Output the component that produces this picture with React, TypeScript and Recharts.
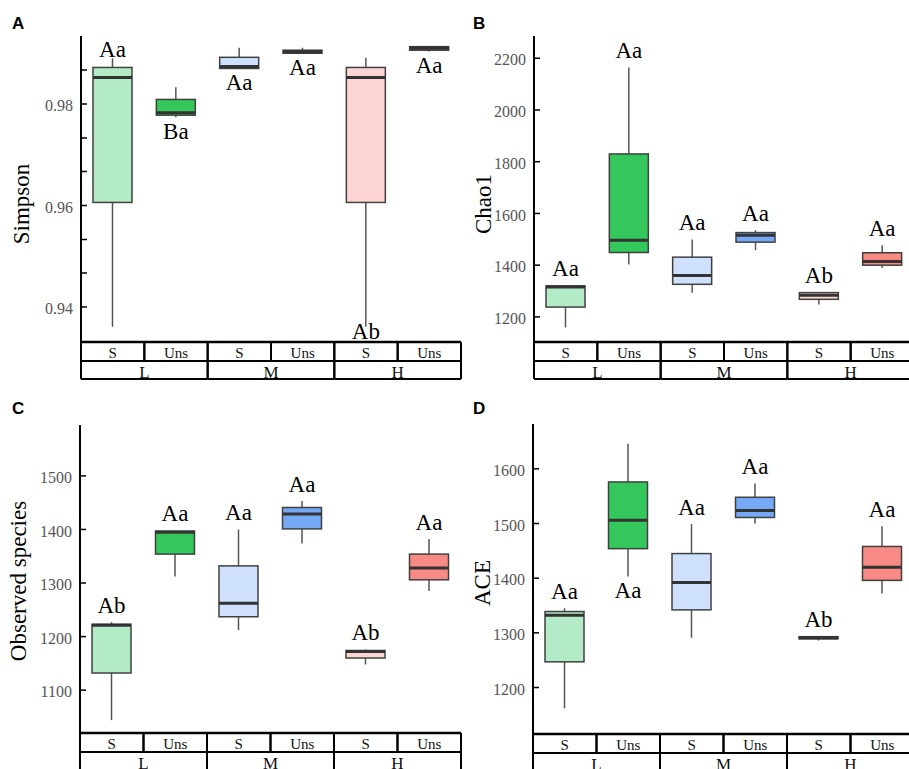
import React from "react";
import { ComposedChart, Bar, XAxis, YAxis } from "recharts";

const groups = ["L", "L", "M", "M", "H", "H"];
const treatments = ["S", "Uns", "S", "Uns", "S", "Uns"];

// Simpson
const simpsonMin = [0.9361, 0.9774, 0.987, 0.99, 0.9361, 0.9903];
const simpsonQ1 = [0.9606, 0.9778, 0.987, 0.99, 0.9606, 0.9906];
const simpsonMedian = [0.9852, 0.9783, 0.9874, 0.9903, 0.9852, 0.991];
const simpsonQ3 = [0.9872, 0.9809, 0.9892, 0.9906, 0.9872, 0.9913];
const simpsonMax = [0.989, 0.9833, 0.9911, 0.9911, 0.9891, 0.9913];
const simpsonLetters = ["Aa", "Ba", "Aa", "Aa", "Ab", "Aa"];
const simpsonSides = ["top", "bottom", "bottom", "bottom", "bottom", "bottom"];
const simpsonTicks = [0.94, 0.9467, 0.9533, 0.96, 0.9667, 0.9733, 0.98, 0.9867];
const simpsonLabelled = [0.94, 0.96, 0.98];

// Chao1
const chaoMin = [1159, 1403, 1293, 1458, 1248, 1389];
const chaoQ1 = [1238, 1449, 1326, 1489, 1268, 1400];
const chaoMedian = [1316, 1496, 1360, 1516, 1284, 1414];
const chaoQ3 = [1320, 1830, 1431, 1526, 1294, 1448];
const chaoMax = [1323, 2164, 1499, 1535, 1294.5, 1477];
const chaoLetters = ["Aa", "Aa", "Aa", "Aa", "Ab", "Aa"];
const chaoSides = ["top", "top", "top", "top", "top", "top"];
const chaoTicks = [1200, 1400, 1600, 1800, 2000, 2200];

// Observed species
const obsMin = [1044, 1312, 1212, 1374, 1148, 1285];
const obsQ1 = [1132, 1354, 1237, 1401, 1160, 1306];
const obsMedian = [1221, 1395, 1262, 1429, 1172, 1328];
const obsQ3 = [1223, 1397, 1332, 1441, 1174, 1354];
const obsMax = [1227, 1398, 1400, 1453, 1176, 1382];
const obsLetters = ["Ab", "Aa", "Aa", "Aa", "Ab", "Aa"];
const obsSides = ["top", "top", "top", "top", "top", "top"];
const obsTicks = [1100, 1200, 1300, 1400, 1500];

// ACE
const aceMin = [1162, 1403, 1291, 1500, 1286, 1372];
const aceQ1 = [1247, 1454, 1342, 1511, 1289, 1396];
const aceMedian = [1332, 1506, 1392, 1524, 1291, 1420];
const aceQ3 = [1339, 1576, 1445, 1548, 1293, 1458];
const aceMax = [1345, 1646, 1499, 1573, 1293.5, 1495];
const aceLetters = ["Aa", "Aa", "Aa", "Aa", "Ab", "Aa"];
const aceSides = ["top", "bottom", "top", "top", "top", "top"];
const aceTicks = [1200, 1300, 1400, 1500, 1600];

const boxFills = ["#b3ebc6", "#34c85c", "#cfe0fd", "#76a9f5", "#fdd5d5", "#f88a85"];
const SERIF = '"Liberation Serif", "Times New Roman", serif';
const SANS = '"Liberation Sans", Arial, sans-serif';

function buildRows(min, q1, median, q3, max, letters, sides) {
  return groups.map((g, i) => ({
    key: g + "-" + treatments[i],
    group: g,
    trt: treatments[i],
    idx: i,
    min: min[i],
    q1: q1[i],
    median: median[i],
    q3: q3[i],
    max: max[i],
    letter: letters[i],
    side: sides[i],
  }));
}

function BoxShape(props) {
  const { x, y, width, height, payload: r, plotTop, plotBottom } = props;
  const top = Math.min(y, y + height);
  const h = Math.abs(height);
  const py = (v) => top + ((r.max - v) / (r.max - r.min)) * h;
  const cx = x + width / 2;
  const yQ3 = py(r.q3);
  const yQ1 = py(r.q1);
  const yMed = py(r.median);
  // letters sit above the upper whisker or below the lower one, kept inside the frame
  let ly = r.side === "top" ? py(r.max) - 9.5 : py(r.min) + 21.5;
  if (r.side === "top") ly = Math.max(ly, plotTop + 21);
  else ly = Math.min(ly, plotBottom - 3);
  return (
    <g>
      <line x1={cx} x2={cx} y1={py(r.max)} y2={py(r.min)} stroke="#555" strokeWidth={1.5} />
      <rect
        x={x}
        y={yQ3}
        width={width}
        height={Math.max(yQ1 - yQ3, 0.5)}
        fill={boxFills[r.idx]}
        stroke="#404040"
        strokeWidth={1.5}
      />
      <line x1={x} x2={x + width} y1={yMed} y2={yMed} stroke="#333" strokeWidth={3} />
      <text x={cx} y={ly} textAnchor="middle" fontFamily={SERIF} fontSize={23} fill="#000">
        {r.letter}
      </text>
    </g>
  );
}

function Panel({ left, top, yWidth, plotWidth, plotHeight, letter, letterX, letterY, yLabel, lx, ly, rows, domain, ticks, labelled, fmt }) {
  const marginTop = 36;
  const band = plotWidth / rows.length;
  const width = yWidth + plotWidth + 2;
  const height = marginTop + plotHeight + 19 + 18 + 3;
  const axisX = yWidth;

  const ValTick = ({ y, payload }) => {
    const v = payload.value;
    const show = (labelled || ticks).some((m) => Math.abs(m - v) < 1e-9);
    return (
      <g>
        <line x1={axisX} x2={axisX + 6} y1={y} y2={y} stroke="#000" strokeWidth={1.5} />
        {show && (
          <text x={axisX - 8} y={y} dy="0.45em" textAnchor="end" fontFamily={SERIF} fontSize={16} fill="#555">
            {fmt(v)}
          </text>
        )}
      </g>
    );
  };

  const CatTick = ({ x, y, payload }) => {
    const label = String(payload.value).split("-")[1];
    return (
      <g>
        <line x1={x - band / 2} x2={x - band / 2} y1={y} y2={y + 19} stroke="#000" strokeWidth={2} />
        <line x1={x + band / 2} x2={x + band / 2} y1={y} y2={y + 19} stroke="#000" strokeWidth={2} />
        <text x={x} y={y + 15.5} textAnchor="middle" fontFamily={SERIF} fontSize={15} fill="#111">
          {label}
        </text>
      </g>
    );
  };

  const GrpTick = ({ x, y, payload }) => (
    <g>
      <line x1={x - band} x2={x - band} y1={y} y2={y + 18} stroke="#000" strokeWidth={2} />
      <line x1={x + band} x2={x + band} y1={y} y2={y + 18} stroke="#000" strokeWidth={2} />
      <line x1={x - band} x2={x + band} y1={y + 18} y2={y + 18} stroke="#000" strokeWidth={2} />
      <text x={x} y={y + 16.5} textAnchor="middle" fontFamily={SERIF} fontSize={17} fill="#111">
        {payload.value}
      </text>
    </g>
  );

  const Labels = () => (
    <g>
      <text x={letterX} y={letterY} fontFamily={SANS} fontWeight="bold" fontSize={17} fill="#000">
        {letter}
      </text>
      <text
        x={lx}
        y={ly}
        transform={`rotate(-90 ${lx} ${ly})`}
        textAnchor="middle"
        fontFamily={SERIF}
        fontSize={23}
        fill="#000"
      >
        {yLabel}
      </text>
    </g>
  );

  return (
    <div style={{ position: "absolute", left, top }}>
      <ComposedChart
        width={width}
        height={height}
        data={rows}
        margin={{ top: marginTop, right: 2, bottom: 3, left: 0 }}
        barSize={39}
      >
        <XAxis
          xAxisId="top"
          orientation="top"
          dataKey="key"
          height={0}
          tick={false}
          tickLine={false}
          axisLine={{ stroke: "#000", strokeWidth: 2.5 }}
        />
        <XAxis
          xAxisId="cat"
          dataKey="key"
          height={19}
          tickSize={0}
          tickMargin={0}
          interval={0}
          tickLine={false}
          axisLine={{ stroke: "#000", strokeWidth: 2.5 }}
          tick={(p) => <CatTick {...p} />}
        />
        <XAxis
          xAxisId="grp"
          dataKey="group"
          allowDuplicatedCategory={false}
          height={18}
          tickSize={0}
          tickMargin={0}
          interval={0}
          tickLine={false}
          axisLine={{ stroke: "#000", strokeWidth: 2 }}
          tick={(p) => <GrpTick {...p} />}
        />
        <YAxis
          yAxisId="val"
          type="number"
          domain={domain}
          allowDataOverflow
          ticks={ticks}
          interval={0}
          width={yWidth}
          tickSize={0}
          tickLine={false}
          axisLine={{ stroke: "#000", strokeWidth: 2 }}
          tick={(p) => <ValTick {...p} />}
          label={<Labels />}
        />
        <YAxis
          yAxisId="right"
          orientation="right"
          width={0}
          tick={false}
          tickLine={false}
          axisLine={{ stroke: "#000", strokeWidth: 2 }}
        />
        <Bar
          xAxisId="cat"
          yAxisId="val"
          dataKey={(d) => [d.min, d.max]}
          isAnimationActive={false}
          shape={(p) => <BoxShape {...p} plotTop={marginTop} plotBottom={marginTop + plotHeight} />}
        />
      </ComposedChart>
    </div>
  );
}

export default function App() {
  return (
    <div
      style={{
        position: "absolute",
        left: 0,
        top: 0,
        width: 909,
        height: 769,
        overflow: "hidden",
        background: "#fff",
      }}
    >
      <Panel
        left={0}
        top={0}
        yWidth={81}
        plotWidth={380}
        plotHeight={306}
        letter="A"
        letterX={12}
        letterY={28.5}
        yLabel="Simpson"
        lx={28.5}
        ly={204}
        rows={buildRows(simpsonMin, simpsonQ1, simpsonMedian, simpsonQ3, simpsonMax, simpsonLetters, simpsonSides)}
        domain={[0.9331, 0.9934]}
        ticks={simpsonTicks}
        labelled={simpsonLabelled}
        fmt={(v) => v.toFixed(2)}
      />
      <Panel
        left={453}
        top={0}
        yWidth={81}
        plotWidth={380}
        plotHeight={306}
        letter="B"
        letterX={20}
        letterY={28.5}
        yLabel="Chao1"
        lx={38}
        ly={204}
        rows={buildRows(chaoMin, chaoQ1, chaoMedian, chaoQ3, chaoMax, chaoLetters, chaoSides)}
        domain={[1103, 2286]}
        ticks={chaoTicks}
        fmt={(v) => String(v)}
      />
      <Panel
        left={0}
        top={389}
        yWidth={80}
        plotWidth={381}
        plotHeight={308}
        letter="C"
        letterX={12}
        letterY={25}
        yLabel="Observed species"
        lx={26}
        ly={192}
        rows={buildRows(obsMin, obsQ1, obsMedian, obsQ3, obsMax, obsLetters, obsSides)}
        domain={[1020, 1595]}
        ticks={obsTicks}
        fmt={(v) => String(v)}
      />
      <Panel
        left={452}
        top={388}
        yWidth={81}
        plotWidth={381}
        plotHeight={310}
        letter="D"
        letterX={21}
        letterY={26}
        yLabel="ACE"
        lx={38}
        ly={195}
        rows={buildRows(aceMin, aceQ1, aceMedian, aceQ3, aceMax, aceLetters, aceSides)}
        domain={[1115, 1682]}
        ticks={aceTicks}
        fmt={(v) => String(v)}
      />
    </div>
  );
}
